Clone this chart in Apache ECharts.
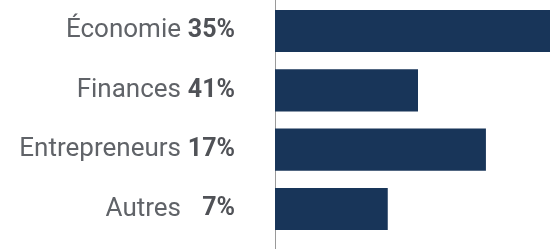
<!DOCTYPE html>
<html>
<head>
<meta charset="utf-8">
<script src="https://cdn.jsdelivr.net/npm/echarts@6/dist/echarts.min.js"></script>
<style>
  html, body { margin: 0; padding: 0; background: #fff; }
  #chart { width: 550px; height: 249px; }
</style>
</head>
<body>
<div id="chart"></div>
<script>
// catégories et valeurs
const categories = ['Économie', 'Finances', 'Entrepreneurs', 'Autres']
const shares = ['35%', '41%', '17%', '7%']
const values = [100, 52, 76.7, 41]

const BAR = '#183559'
const TEXT = '#606368'
const TEXT_BOLD = '#505257'

const chart = echarts.init(document.getElementById('chart'))

chart.setOption({
  animation: false,
  backgroundColor: '#fff',
  grid: [
    { left: 275, right: 0, top: 1.3, height: 237.4 },
    { left: 275, right: 0, top: 0, bottom: 0 },
  ],
  xAxis: [
    { type: 'value', gridIndex: 0, min: 0, max: 100, show: false },
    { type: 'value', gridIndex: 1, show: false },
  ],
  yAxis: [
    {
      type: 'category',
      gridIndex: 0,
      inverse: true,
      data: categories,
      axisLine: { show: false },
      axisTick: { show: false },
      axisLabel: {
        margin: 40,
        formatter: (v, i) => `{n|${v}}{b| ${shares[i]}}`,
        rich: {
          n: { fontFamily: 'Roboto', fontSize: 26, color: TEXT },
          b: { fontFamily: 'Roboto', fontSize: 25, fontWeight: 'bold', color: TEXT_BOLD, width: 54, align: 'right' },
        },
      },
    },
    {
      type: 'category',
      gridIndex: 1,
      data: [],
      axisLine: { show: true, lineStyle: { color: '#9a9a9a', width: 1 } },
      axisTick: { show: false },
      axisLabel: { show: false },
    },
  ],
  series: [
    {
      type: 'bar',
      xAxisIndex: 0,
      yAxisIndex: 0,
      data: values,
      barCategoryGap: '29%',
      itemStyle: { color: BAR },
    },
  ],
})
</script>
</body>
</html>
